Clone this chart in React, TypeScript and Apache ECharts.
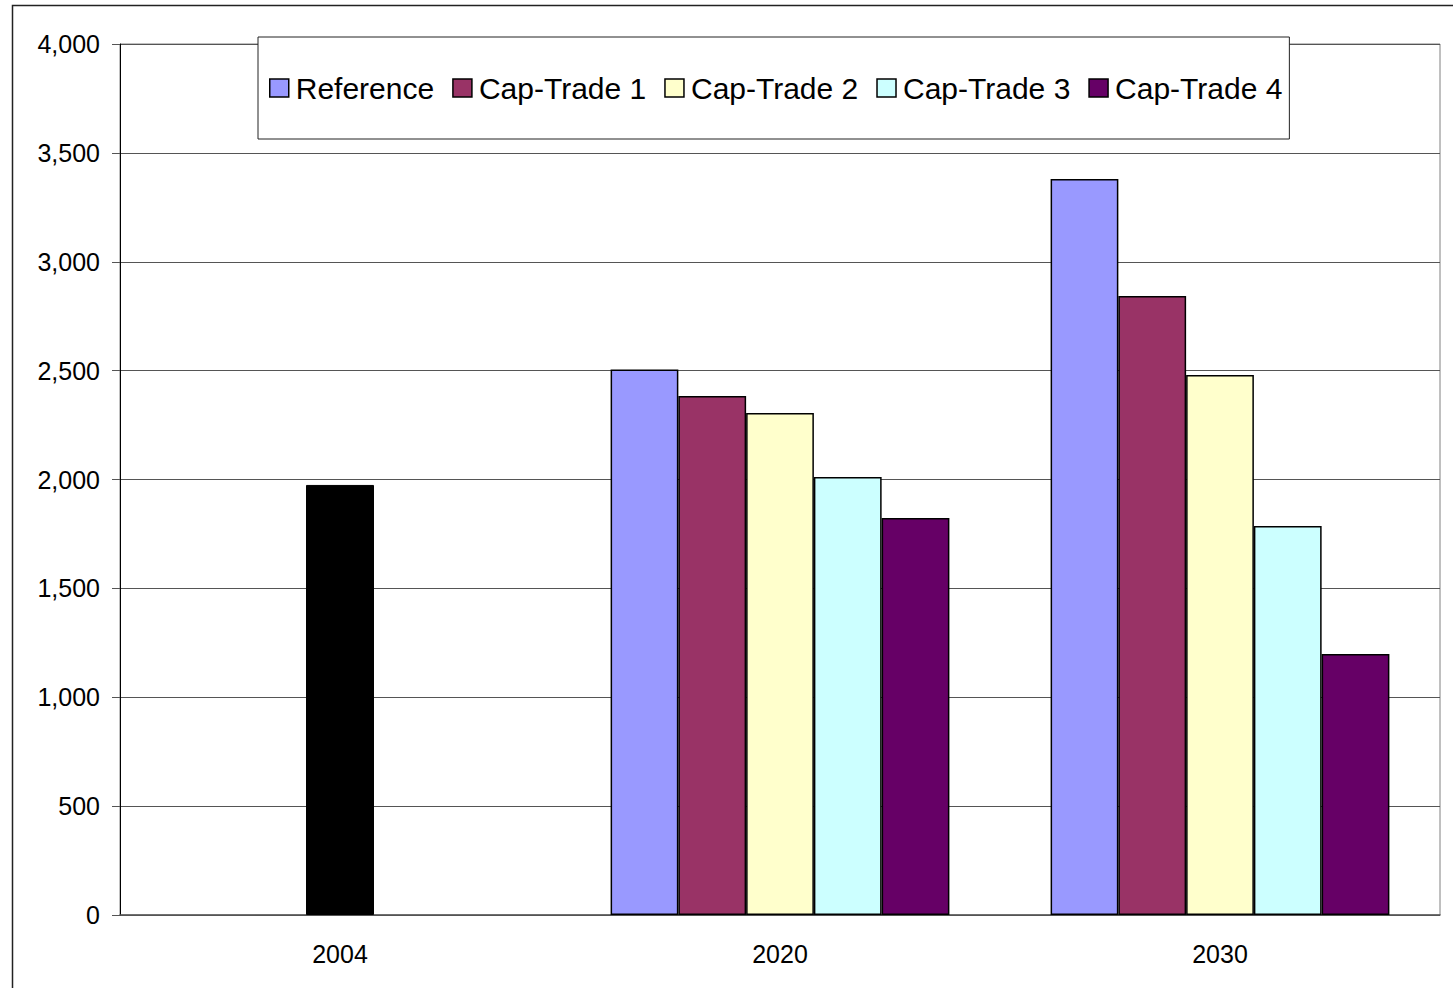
import React, { useEffect, useRef } from "react";
import * as echarts from "echarts";

const categories = ["2004", "2020", "2030"];
const seriesNames = ["Reference", "Cap-Trade 1", "Cap-Trade 2", "Cap-Trade 3", "Cap-Trade 4"];
const seriesColors = ["#9999FF", "#993366", "#FFFFCC", "#CCFFFF", "#660066"];
const reference = ["-", 2505, 3380];
const capTrade1 = ["-", 2383, 2843];
const capTrade2 = ["-", 2305, 2480];
const capTrade3 = ["-", 2011, 1786];
const capTrade4 = ["-", 1823, 1199];
const base2004 = [1975, "-", "-"];
const yMin = 0;
const yMax = 4000;
const yInterval = 500;

const FONT = "'Liberation Sans', Arial, sans-serif";

export default function App() {
  const ref = useRef<HTMLDivElement>(null);
  useEffect(() => {
    if (!ref.current) return;
    const chart = echarts.init(ref.current, null, { renderer: "svg" });
    const values = [reference, capTrade1, capTrade2, capTrade3, capTrade4];
    const option: any = {
      animation: false,
      backgroundColor: "#ffffff",
      textStyle: { fontFamily: FONT },
      graphic: [
        {
          type: "rect",
          z: -10,
          silent: true,
          shape: { x: 12.5, y: 5.5, width: 1600, height: 1200 },
          style: { fill: "none", stroke: "#222", lineWidth: 1.5 },
        },
      ],
      grid: {
        left: 120,
        top: 44,
        right: 13,
        bottom: 73,
        show: true,
        borderColor: "#808080",
        borderWidth: 1,
        containLabel: false,
      },
      legend: {
        data: seriesNames,
        left: 258,
        top: 37,
        orient: "horizontal",
        backgroundColor: "#ffffff",
        borderColor: "#222",
        borderWidth: 1,
        borderRadius: 0,
        padding: [36, 7, 36, 11],
        itemGap: 18,
        itemWidth: 19,
        itemHeight: 18,
        icon: "rect",
        z: 10,
        textStyle: { fontSize: 30, color: "#000", fontFamily: FONT, padding: [0, 0, 0, 2] },
        itemStyle: { borderColor: "#000", borderWidth: 1.5 },
      },
      xAxis: [
        {
          type: "category",
          data: categories,
          axisLine: { show: true, lineStyle: { color: "#555", width: 1.5 } },
          axisTick: { show: false },
          axisLabel: { fontSize: 25, color: "#000", margin: 26, fontFamily: FONT },
          splitLine: { show: false },
        },
        {
          type: "category",
          data: categories,
          show: false,
        },
      ],
      yAxis: {
        type: "value",
        min: yMin,
        max: yMax,
        interval: yInterval,
        axisLine: { show: true, lineStyle: { color: "#000", width: 1 } },
        axisTick: { show: true, length: 8, inside: false, lineStyle: { color: "#555" } },
        axisLabel: {
          fontSize: 25,
          color: "#000",
          margin: 20,
          fontFamily: FONT,
          formatter: (v: number) => v.toLocaleString("en-US"),
        },
        splitLine: { show: true, lineStyle: { color: "#555", width: 1 } },
      },
      series: [
        ...seriesNames.map((name, i) => ({
          name,
          type: "bar",
          xAxisIndex: 0,
          data: values[i],
          barGap: "0%",
          barCategoryGap: "23%",
          itemStyle: { color: seriesColors[i], borderColor: "#000", borderWidth: 1.5 },
        })),
        {
          name: "2004",
          type: "bar",
          xAxisIndex: 1,
          data: base2004,
          barWidth: 68,
          itemStyle: { color: "#000", borderColor: "#000", borderWidth: 1 },
        },
      ],
    };
    chart.setOption(option);
    return () => chart.dispose();
  }, []);
  return (
    <div
      ref={ref}
      style={{ position: "absolute", left: 0, top: 0, width: 1453, height: 988 }}
    />
  );
}
